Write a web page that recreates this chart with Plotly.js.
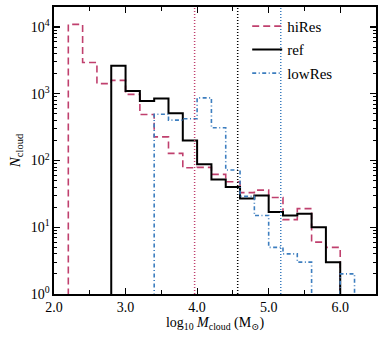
<!DOCTYPE html>
<html>
<head>
<meta charset="utf-8">
<script src="https://cdn.plot.ly/plotly-3.0.1.min.js"></script>
<style>html,body{margin:0;padding:0;background:#fff;}#chart{width:382px;height:347px;}</style>
</head>
<body>
<div id="chart"></div>
<script>
// Histogram data: left bin edge of first bin, bin width, counts per bin
const binWidth = 0.2;
const hiResStart = 2.2;
const hiResCounts = [11000, 2950, 1420, 1590, 980, 490, 226, 128, 78, 79, 62, 48, 33, 36, 28, 13, 19, 6, 5];
const refStart = 2.8;
const refCounts = [2630, 1100, 780, 850, 510, 200, 88, 52, 40, 27, 30, 17, 15, 16, 10, 3];
const lowResStart = 3.4;
const lowResCounts = [495, 403, 424, 870, 310, 72, 29, 15, 5, 4, 3, 0, 0, 2];
const seriesNames = ["hiRes", "ref", "lowRes"];
// Mass resolution markers (log10 M)
const resolutionLines = [3.965, 4.567, 5.169];
const xTickVals = [2, 3, 4, 5, 6];
const xTickText = ["2.0", "3.0", "4.0", "5.0", "6.0"];
const yTickVals = [1, 10, 100, 1000, 10000];
const yTickText = ["10<sup>0</sup>", "10<sup>1</sup>", "10<sup>2</sup>", "10<sup>3</sup>", "10<sup>4</sup>"];

const colors = ["#c0406e", "#000000", "#3d7ebf"];
const FLOOR = 0.01;

function stepXY(start, counts) {
  const xs = [start], ys = [FLOOR];
  counts.forEach((c, i) => {
    xs.push(+(start + i * binWidth).toFixed(4));
    ys.push(c > 0 ? c : FLOOR);
  });
  const end = +(start + counts.length * binWidth).toFixed(4);
  xs.push(end); ys.push(counts[counts.length - 1] > 0 ? counts[counts.length - 1] : FLOOR);
  xs.push(end); ys.push(FLOOR);
  return {x: xs, y: ys};
}

const h = stepXY(hiResStart, hiResCounts);
const r = stepXY(refStart, refCounts);
const l = stepXY(lowResStart, lowResCounts);

const traces = [
  {x: h.x, y: h.y, name: seriesNames[0], legendgroup: "a", mode: "lines", line: {shape: "hv", color: colors[0], width: 1.6, dash: "7px,4px"}},
  {x: r.x, y: r.y, name: seriesNames[1], legendgroup: "b", mode: "lines", line: {shape: "hv", color: colors[1], width: 2}},
  {x: l.x, y: l.y, name: seriesNames[2], legendgroup: "c", mode: "lines", line: {shape: "hv", color: colors[2], width: 1.6, dash: "4px,2.5px,1px,2.5px"}}
];

const shapes = resolutionLines.map((v, i) => ({
  type: "line", xref: "x", yref: "paper", x0: v, x1: v, y0: 0, y1: 1,
  line: {color: colors[i], width: 1.5, dash: "1px,2px"}, layer: "above"
}));

const minorY = [];
for (let d = 1; d <= 10000; d *= 10) for (let k = 2; k <= 9; k++) if (d * k < 20000) minorY.push(d * k);

const fontFam = "Liberation Serif, DejaVu Serif, serif";
const layout = {
  width: 382, height: 347,
  margin: {l: 54, r: 6, t: 7, b: 53},
  paper_bgcolor: "#fff", plot_bgcolor: "#fff",
  font: {family: fontFam, size: 14, color: "#000"},
  showlegend: true,
  legend: {x: 0.60, y: 0.99, xanchor: "left", yanchor: "top", bgcolor: "rgba(0,0,0,0)",
           traceorder: "grouped", tracegroupgap: 1, font: {family: fontFam, size: 15}},
  xaxis: {
    range: [2, 6.5], tickmode: "array", tickvals: xTickVals, ticktext: xTickText,
    ticks: "inside", ticklen: 6, tickwidth: 1.2, tickcolor: "#000",
    minor: {tickmode: "array", tickvals: [2.5, 3.5, 4.5, 5.5, 6.5], ticks: "inside", ticklen: 4, tickwidth: 1, tickcolor: "#000"},
    showline: true, linecolor: "#000", linewidth: 1.6, mirror: "allticks",
    showgrid: false, zeroline: false,
    title: {text: "log<sub>10</sub> <i>M</i><sub>cloud</sub> (M<sub>⊙</sub>)", font: {family: fontFam, size: 14}, standoff: 3}
  },
  yaxis: {
    type: "log", range: [0, Math.log10(20000)],
    tickmode: "array", tickvals: yTickVals, ticktext: yTickText,
    ticks: "inside", ticklen: 6, tickwidth: 1.2, tickcolor: "#000",
    minor: {tickmode: "array", tickvals: minorY, ticks: "inside", ticklen: 3, tickwidth: 1, tickcolor: "#000"},
    showline: true, linecolor: "#000", linewidth: 1.6, mirror: "allticks",
    showgrid: false, zeroline: false,
    title: {text: "<i>N</i><sub>cloud</sub>", font: {family: fontFam, size: 15}, standoff: 6}
  },
  shapes: shapes
};

Plotly.newPlot("chart", traces, layout, {staticPlot: true, displayModeBar: false});
</script>
</body>
</html>
